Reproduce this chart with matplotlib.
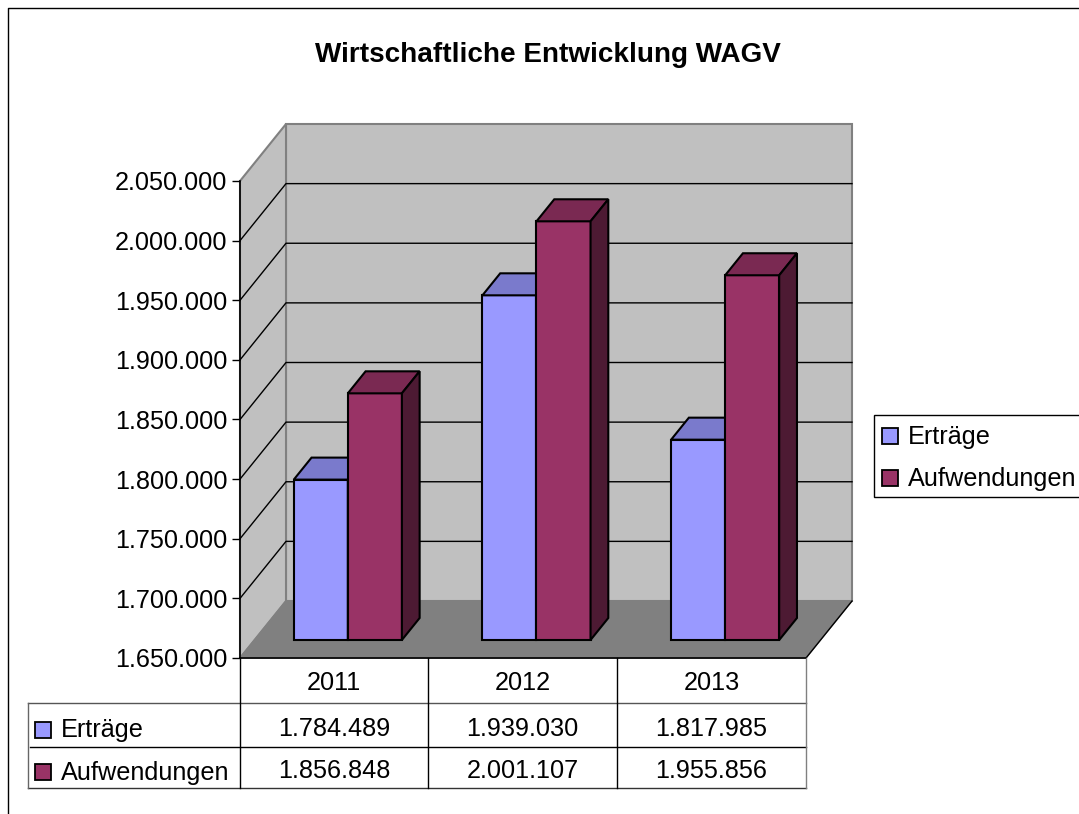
import matplotlib
matplotlib.use("Agg")
import matplotlib.pyplot as plt
from matplotlib.patches import Rectangle

plt.rcParams["font.family"] = ["Liberation Sans", "DejaVu Sans"]

years = ["2011", "2012", "2013"]
ertraege = [1784489, 1939030, 1817985]
aufwendungen = [1856848, 2001107, 1955856]
series_names = ["Erträge", "Aufwendungen"]
y_ticks = [1650000, 1700000, 1750000, 1800000, 1850000, 1900000, 1950000, 2000000, 2050000]

W, H = 1079, 814
FS = 18.2
FRONT = ["#9999ff", "#993366"]
TOPS = ["#7a7acc", "#7a2952"]
SIDES = ["#5c5c99", "#4d1a33"]


def de(v):
    return f"{v:,}".replace(",", ".")


fig = plt.figure(figsize=(W / 100, H / 100), dpi=100)

# front plane of the 3d box, in pixels
L, R, T, B = 240, 806, 181, 658
ax = fig.add_axes([L / W, 1 - B / H, (R - L) / W, (B - T) / H])
ax.set_xlim(0, 3)
ax.set_ylim(y_ticks[0], y_ticks[-1])
ax.patch.set_visible(False)
for s in ax.spines.values():
    s.set_visible(False)

# one pixel of screen depth in data units
PX = 3 / (R - L)
PY = (y_ticks[-1] - y_ticks[0]) / (B - T)
DEPTH_X, DEPTH_Y = 46, 57


def shift(x, v, d):
    return x + d * DEPTH_X * PX, v + d * DEPTH_Y * PY


def face(pts, color, ec="black", lw=1.5, z=2):
    xs, ys = zip(*[shift(*p) for p in pts])
    ax.fill(xs, ys, facecolor=color, edgecolor=ec, linewidth=lw, clip_on=False, zorder=z, joinstyle="miter")


lo, hi = y_ticks[0], y_ticks[-1]

# walls + floor
face([(0, lo, 1), (3, lo, 1), (3, hi, 1), (0, hi, 1)], "#c0c0c0", "#808080", 1.5, 1)
face([(0, lo, 0), (0, lo, 1), (0, hi, 1), (0, hi, 0)], "#c0c0c0", "#808080", 1.5, 1)
face([(0, lo, 0), (3, lo, 0), (3, lo, 1), (0, lo, 1)], "#808080", "#808080", 1, 1.1)

for t in y_ticks[1:-1]:
    x0, y0 = shift(0, t, 0)
    x1, y1 = shift(0, t, 1)
    x2, y2 = shift(3, t, 1)
    ax.plot([x0, x1, x2], [y0, y1, y2], color="black", lw=1, clip_on=False, zorder=1.5)

# front edges of the box
ax.plot([0, 0], [lo, hi], color="black", lw=1.2, clip_on=False, zorder=1.6)
ax.plot([0, 3], [lo, lo], color="black", lw=1.2, clip_on=False, zorder=1.6)
x3, y3 = shift(3, lo, 1)
ax.plot([3, x3], [lo, y3], color="black", lw=1, clip_on=False, zorder=1.6)

# bars
BAR_W = 0.2865
D0, D1 = 0.316, 0.702
for i in range(len(years)):
    left = i + 0.208
    for j, vals in enumerate([ertraege, aufwendungen]):
        a = left + j * BAR_W
        b = a + BAR_W
        v = vals[i]
        face([(a, lo, D0), (b, lo, D0), (b, v, D0), (a, v, D0)], FRONT[j], z=3 + j)
        face([(a, v, D0), (b, v, D0), (b, v, D1), (a, v, D1)], TOPS[j], z=3 + j)
        face([(b, lo, D0), (b, lo, D1), (b, v, D1), (b, v, D0)], SIDES[j], z=3 + j)

# y axis ticks and labels
ax.set_xticks([])
ax.set_yticks(y_ticks)
ax.set_yticklabels([de(t) for t in y_ticks], fontsize=FS, color="black")
ax.tick_params(axis="y", length=6, width=1, pad=3)

fig.text(548 / W, 1 - 55 / H, "Wirtschaftliche Entwicklung WAGV", fontsize=20.1, fontweight="bold",
         ha="center", va="center")

# the rest is in figure pixels
over = fig.add_axes([0, 0, 1, 1])
over.set_xlim(0, W)
over.set_ylim(H, 0)
over.axis("off")
over.patch.set_visible(False)

# outer frame
over.plot([1079, 8, 8], [8, 8, 814], color="black", lw=1)

# data table
col_x = [240, 428, 617, 806]
row_y = [658, 703, 747, 788]
TL = 28
over.plot([TL, col_x[-1]], [row_y[1], row_y[1]], color="#555555", lw=1)
over.plot([TL + 2, col_x[-1]], [row_y[2], row_y[2]], color="black", lw=1)
over.plot([TL, col_x[-1]], [row_y[3], row_y[3]], color="#333333", lw=1)
over.plot([TL, TL], [row_y[1], row_y[3]], color="#666666", lw=1)
for x in col_x:
    over.plot([x, x], [row_y[0], row_y[3]], color="black" if x != 806 else "#808080", lw=1)

for i, y in enumerate(years):
    cx = (col_x[i] + col_x[i + 1]) / 2
    over.text(cx, 682.5, y, fontsize=FS, ha="center", va="center")
    over.text(cx, 728.5, de(ertraege[i]), fontsize=FS, ha="center", va="center")
    over.text(cx, 771.5, de(aufwendungen[i]), fontsize=FS, ha="center", va="center")

for j, ry in enumerate([729.5, 772]):
    over.add_patch(Rectangle((35, ry - 8), 16, 16, facecolor=FRONT[j], edgecolor="black", lw=1.3))
    over.text(61, ry + 1, series_names[j], fontsize=FS, ha="left", va="center")

# legend
over.add_patch(Rectangle((873.5, 414.5), 210, 82, facecolor="white", edgecolor="black", lw=1))
for j, ry in enumerate([436, 478]):
    over.add_patch(Rectangle((882, ry - 8), 16, 16, facecolor=FRONT[j], edgecolor="black", lw=1.3))
    over.text(908, ry + 1, series_names[j], fontsize=FS, ha="left", va="center")

fig.savefig("out.png", dpi=100)
